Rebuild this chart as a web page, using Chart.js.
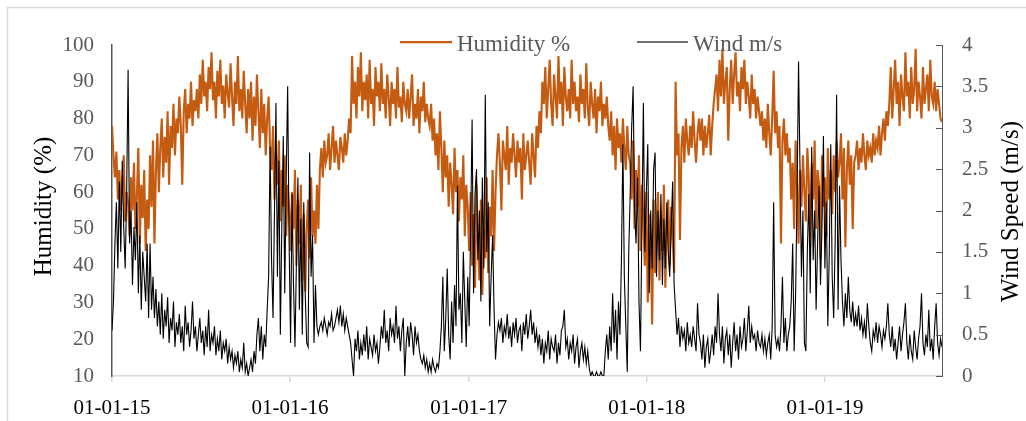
<!DOCTYPE html>
<html>
<head>
<meta charset="utf-8">
<script src="https://cdn.jsdelivr.net/npm/chart.js@4.4.1/dist/chart.umd.min.js"></script>
<style>
  html, body { margin: 0; padding: 0; background: #ffffff; }
  canvas { display: block; }
</style>
</head>
<body>
<canvas id="c" width="1026" height="421"></canvas>
<script>
// ---- data (3-day samples starting 01-01-2015) ----
const STEP_DAYS = 3;
const humidity = [
  // Jan-Feb 2015
  78, 70, 64, 71, 58, 66, 55, 62, 70, 52,
  60, 57, 48, 64, 55, 68, 50, 59, 72, 46,
  62, 53, 66, 44, 58, 50,
  // Mar-Apr 2015
  70, 56, 74, 46, 66, 76, 60, 72, 80, 64,
  75, 68, 82, 62, 78, 72, 84, 70, 80, 76,
  // May-Jun 2015
  86, 78, 62, 82, 88, 76, 84, 80, 90, 78,
  85, 82, 88, 80,
  // Jun-Sep 2015
  92, 84, 96, 86, 90, 82, 94, 88, 98, 85,
  90, 80, 93, 86, 96, 84, 89, 80, 92, 87,
  83, 95, 86, 78, 90, 84, 97, 82, 88, 80,
  93, 84, 76, 88,
  // Oct-Nov 2015
  80, 90, 74, 86, 78, 92, 82, 72, 88, 76,
  84, 70, 80, 86,
  // Nov 2015 - Feb 2016
  72, 66, 78, 58, 70, 62, 74, 52, 66, 56,
  70, 48, 62, 55, 44, 60, 50, 66, 40, 58,
  46, 62, 36, 54, 33, 50, 58, 42, 64, 48,
  55, 46, 62, 50,
  // Feb-Apr 2016
  66, 72, 64, 74, 68, 70, 76, 66, 72, 78,
  68, 74, 70, 66, 75, 72, 68, 76, 70, 74, 80,
  // May-Oct 2016
  76, 97, 84, 90, 80, 94, 86, 98, 82, 90,
  85, 92, 80, 96, 84, 88, 78, 94, 86, 90,
  82, 95, 84, 88, 80, 92, 86, 78, 90, 84,
  88, 80, 94, 83, 86, 79, 90, 84, 82, 88,
  80, 86, 92, 78, 84, 80, 88, 76, 86, 82,
  90, 79, 84, 80,
  // Oct-Dec 2016
  78, 84, 74, 80, 70, 76, 66, 82, 72, 60,
  74, 64, 70, 56, 68, 62, 54, 72, 60, 66,
  52, 64, 58, 70, 48, 62, 56, 44,
  // Jan-Feb 2017
  60, 40, 54, 34, 62, 46, 36, 58, 32, 50,
  42, 64, 38, 56, 48, 66, 44, 60, 70, 76,
  // Mar-May 2017
  68, 55, 74, 70, 66, 78, 62, 72, 68, 76,
  70, 64, 74, 68, 72, 58, 76, 66, 70, 74,
  68, 62, 76, 70, 64, 78, 72,
  // May-Oct 2017
  82, 76, 90, 84, 94, 80, 88, 96, 84, 78,
  92, 86, 80, 97, 84, 90, 78, 94, 86, 82,
  88, 80, 96, 84, 90, 82, 86, 79, 92, 84,
  88, 80, 95, 83, 78, 90, 84, 80, 88, 76,
  86, 82, 90, 78, 84, 80, 86, 78,
  // Oct-Nov 2017
  74, 82, 70, 78, 66, 80, 72, 76, 68, 80,
  72, 66, 78, 70,
  // Dec 2017 - Feb 2018
  68, 58, 74, 50, 66, 56, 70, 44, 62, 52,
  40, 60, 30, 54, 46, 24, 58, 38, 50, 60,
  36, 54, 44, 62, 34, 50, 58, 40, 56, 48, 38,
  // Feb-Mar 2018
  90, 70, 76, 47, 72, 78, 68, 80, 74, 70,
  78, 72, 82, 74, 68, 76, 80,
  // Apr 2018
  74, 80, 70, 78, 72, 76, 81, 70, 78, 84,
  // May-Aug 2018
  88, 92, 82, 96, 86, 99, 84, 90, 94, 74,
  88, 96, 84, 92, 98, 86, 90, 82, 94, 88,
  96, 84, 90, 86, 80, 92, 84, 88, 80, 86, 82,
  // Sep-Oct 2018
  78, 82, 74, 80, 72, 84, 76, 70, 80, 93,
  76, 82, 72, 78, 46, 74, 80, 70, 76, 68,
  // Nov 2018 - Jan 2019
  72, 58, 68, 50, 74, 62, 46, 66, 56, 70,
  60, 52, 72, 64, 45, 68, 58, 74, 50, 66,
  62, 42, 70, 56, 64, 48, 72, 58, 66, 54,
  70, 60, 74, 64,
  // Feb 2019
  68, 76, 58, 72, 45, 66, 74, 62, 70, 50, 68,
  // Mar-May 2019
  70, 74, 66, 72, 68, 76, 70, 66, 74, 70,
  72, 68, 76, 70, 74, 72, 78, 70, 76, 80,
  74, 82, 78,
  // Jun-Aug 2019
  84, 94, 80, 88, 96, 84, 90, 78, 92, 86,
  82, 98, 86, 90, 80, 94, 84, 88, 99, 82,
  90, 86, 80, 94, 84, 88, 92, 82, 96, 86,
  84, 90, 82, 88, 84, 80, 79
];
const wind = [
  // Jan-Feb 2015
  0.55, 0.9, 1.6, 2.1, 1.3, 2.35, 1.5, 2.6, 1.8, 1.3,
  2.2, 3.7, 1.6, 2.0, 1.1, 1.8, 1.4, 2.1, 1.0, 1.7,
  0.8, 1.5, 1.2, 0.9, 1.6, 0.7,
  // Mar-Apr 2015
  1.6, 0.8, 1.2, 0.7, 1.05, 0.6, 0.9, 0.5, 1.0, 0.45,
  0.8, 0.6, 0.95, 0.4, 0.7, 0.55, 0.9, 0.35, 0.65, 0.5,
  // May-Jun 2015
  0.75, 0.4, 0.6, 0.3, 0.85, 0.5, 0.65, 0.35, 0.55, 0.9,
  0.45, 0.6, 0.3, 0.5,
  // Jun-Sep 2015
  0.7, 0.4, 0.55, 0.25, 0.6, 0.35, 0.8, 0.3, 0.5, 0.4,
  0.6, 0.25, 0.45, 0.3, 0.55, 0.2, 0.4, 0.3, 0.45, 0.15,
  0.35, 0.2, 0.3, 0.1, 0.25, 0.15, 0.3, 0.05, 0.2, 0.1,
  0.4, 0.05, 0.15, 0.0,
  // Oct-Nov 2015
  0.1, 0.2, 0.05, 0.3, 0.15, 0.5, 0.7, 0.3, 0.6, 0.2,
  0.5, 0.35, 0.8, 1.2,
  // Nov 2015 - Feb 2016
  2.77, 1.4, 0.7, 2.0, 3.3, 1.2, 2.6, 0.5, 1.8, 2.9,
  1.0, 2.4, 3.5, 1.6, 0.4, 2.2, 1.1, 0.35, 1.4, 2.4,
  0.8, 1.9, 0.5, 2.1, 1.0, 0.4, 0.35, 2.7, 1.2, 1.7,
  0.4, 1.1, 0.6, 0.5,
  // Feb-Apr 2016
  0.6, 0.65, 0.55, 0.7, 0.6, 0.5, 0.65, 0.6, 0.75, 0.55,
  0.6, 0.7, 0.8, 0.65, 0.85, 0.6, 0.75, 0.55, 0.7, 0.6, 0.5,
  // May-Oct 2016
  0.4, 0.2, 0.0, 0.45, 0.3, 0.55, 0.2, 0.4, 0.25, 0.5,
  0.3, 0.6, 0.2, 0.45, 0.35, 0.25, 0.5, 0.3, 0.4, 0.15,
  0.35, 0.6, 0.45, 0.8, 0.4, 0.55, 0.3, 0.7, 0.5, 0.6,
  0.4, 0.85, 0.45, 0.6, 0.3, 0.55, 0.7, 0.0, 0.4, 0.6,
  0.35, 0.65, 0.5, 0.25, 0.6, 0.4, 0.5, 0.3, 0.2, 0.15,
  0.25, 0.1, 0.2, 0.05,
  // Oct-Dec 2016
  0.15, 0.05, 0.2, 0.1, 0.05, 0.15, 0.1, 0.3, 0.6, 1.2,
  0.3, 0.7, 1.3, 0.5, 0.2, 0.9, 0.4, 1.1, 0.6, 2.3,
  0.8, 1.0, 0.4, 1.5, 0.9, 0.35, 1.2, 0.6,
  // Jan-Feb 2017
  1.8, 3.1, 1.0, 2.2, 2.5, 1.4, 2.0, 0.9, 2.4, 1.3,
  3.4, 1.5, 2.1, 0.6, 1.2, 1.7, 0.8, 0.2, 0.5, 0.65,
  // Mar-May 2017
  0.55, 0.7, 0.4, 0.6, 0.5, 0.75, 0.45, 0.6, 0.35, 0.65,
  0.5, 0.7, 0.4, 0.55, 0.6, 0.3, 0.65, 0.5, 0.75, 0.45,
  0.6, 0.8, 0.5, 0.65, 0.4, 0.55, 0.35,
  // May-Oct 2017
  0.5, 0.25, 0.45, 0.15, 0.4, 0.3, 0.55, 0.2, 0.45, 0.35,
  0.3, 0.5, 0.15, 0.4, 0.25, 0.55, 0.6, 0.8, 0.35, 0.45,
  0.2, 0.4, 0.3, 0.5, 0.15, 0.35, 0.45, 0.1, 0.3, 0.4,
  0.2, 0.35, 0.15, 0.3, 0.1, 0.0, 0.05, 0.0, 0.0, 0.05,
  0.0, 0.0, 0.05, 0.0, 0.0, 0.3, 0.5, 0.2,
  // Oct-Nov 2017
  0.6, 0.3, 1.0, 0.4, 0.8, 0.2, 0.9, 0.5, 1.4, 2.8,
  1.2, 0.6, 0.05, 1.5,
  // Dec 2017 - Feb 2018
  2.2, 3.0, 3.5, 2.0, 1.6, 2.4, 0.9, 0.3, 1.8, 3.3,
  1.5, 2.2, 2.8, 1.0, 2.0, 1.3, 2.5, 2.7, 1.2, 2.0,
  1.4, 2.2, 1.1, 1.9, 1.3, 2.1, 1.5, 1.2, 1.8, 2.35, 1.1,
  // Feb-Mar 2018
  0.8, 0.5, 0.7, 0.35, 0.6, 0.45, 0.55, 0.3, 0.65, 0.4,
  0.5, 0.35, 0.6, 0.45, 0.3, 0.88, 0.5,
  // Apr 2018
  0.4, 0.2, 0.5, 0.1, 0.35, 0.45, 0.15, 0.3, 0.5, 0.25,
  // May-Aug 2018
  0.6, 0.4, 1.0, 0.5, 0.3, 0.6, 0.15, 0.45, 0.55, 0.25,
  0.5, 0.1, 0.4, 0.65, 0.3, 0.5, 0.2, 0.6, 0.35, 0.45,
  0.7, 0.3, 0.55, 0.85, 0.4, 0.6, 0.45, 0.5, 0.3, 0.55, 0.4,
  // Sep-Oct 2018
  0.35, 0.5, 0.3, 0.45, 0.25, 0.4, 0.5, 0.2, 0.6, 2.1,
  0.5, 0.35, 0.45, 0.3, 0.6, 1.2, 0.4, 0.7, 0.3, 0.5,
  // Nov 2018 - Jan 2019
  0.6, 0.9, 1.6, 0.3, 1.0, 2.2, 3.8, 2.5, 1.2, 2.0,
  0.4, 0.3, 1.5, 2.2, 1.0, 2.77, 1.4, 2.0, 0.8, 1.6,
  2.3, 1.1, 1.8, 2.9, 1.3, 2.1, 0.6, 1.5, 2.8, 1.2,
  0.7, 1.6, 3.4, 0.8,
  // Feb 2019
  2.3, 1.4, 0.9, 0.6, 1.0, 0.7, 1.2, 0.8, 0.65, 0.9, 0.6,
  // Mar-May 2019
  0.75, 0.6, 0.85, 0.55, 0.7, 0.5, 0.65, 0.45, 0.88, 0.6,
  0.4, 0.3, 0.55, 0.45, 0.65, 0.4, 0.6, 0.5, 0.35, 0.55,
  0.45, 0.6, 0.88,
  // Jun-Aug 2019
  0.5, 0.35, 0.6, 0.3, 0.45, 0.2, 0.4, 0.6, 0.3, 0.5,
  0.65, 0.88, 0.4, 0.2, 0.5, 0.3, 0.2, 0.55, 0.35, 0.2,
  0.45, 0.6, 1.0, 0.4, 0.25, 0.5, 0.35, 0.8, 0.3, 0.45,
  0.2, 0.6, 0.88, 0.4, 0.25, 0.45, 0.35
];
const xTickDays = [0, 365, 731, 1096, 1461];
const xTickLabels = ['01-01-15', '01-01-16', '01-01-17', '01-01-18', '01-01-19'];
const seriesLabels = ['Humidity %', 'Wind m/s'];
const axisTitles = ['Humidity (%)', 'Wind Speed (m/s)'];

const ORANGE = '#C55A11';
const GRAY = '#595959';
const SERIF = '"Liberation Serif", "Times New Roman", serif';

const toPoints = arr => arr.map((v, i) => ({ x: i * STEP_DAYS, y: v }));

const decorPlugin = {
  id: 'decor',
  beforeDraw(chart) {
    const ctx = chart.ctx;
    ctx.save();
    ctx.fillStyle = '#ffffff';
    ctx.fillRect(0, 0, chart.width, chart.height);
    ctx.strokeStyle = '#d9d9d9';
    ctx.lineWidth = 1.5;
    ctx.strokeRect(7.5, 7.5, chart.width + 20, chart.height + 20);
    ctx.restore();
  },
  afterDraw(chart) {
    const ctx = chart.ctx;
    const area = chart.chartArea;
    const y1 = chart.scales.y1;
    ctx.save();
    // inward tick marks on the right axis
    ctx.strokeStyle = GRAY;
    ctx.lineWidth = 1;
    y1.ticks.forEach(t => {
      const py = Math.round(y1.getPixelForValue(t.value)) + 0.5;
      ctx.beginPath();
      ctx.moveTo(area.right - 6, py);
      ctx.lineTo(area.right, py);
      ctx.stroke();
    });
    // axis titles
    ctx.fillStyle = '#000000';
    ctx.font = '25px ' + SERIF;
    ctx.textAlign = 'center';
    ctx.textBaseline = 'alphabetic';
    const midY = (area.top + area.bottom) / 2;
    ctx.save();
    ctx.translate(51, midY - 4);
    ctx.rotate(-Math.PI / 2);
    ctx.fillText(axisTitles[0], 0, 0);
    ctx.restore();
    ctx.save();
    ctx.translate(1018, midY + 1);
    ctx.rotate(-Math.PI / 2);
    ctx.fillText(axisTitles[1], 0, 0);
    ctx.restore();
    // legend
    ctx.font = '23px ' + SERIF;
    ctx.textAlign = 'left';
    ctx.fillStyle = GRAY;
    ctx.lineWidth = 2.25;
    ctx.strokeStyle = ORANGE;
    ctx.beginPath(); ctx.moveTo(400, 42); ctx.lineTo(452, 42); ctx.stroke();
    ctx.fillText(seriesLabels[0], 457, 51);
    ctx.lineWidth = 1.5;
    ctx.strokeStyle = '#404040';
    ctx.beginPath(); ctx.moveTo(637, 42); ctx.lineTo(688, 42); ctx.stroke();
    ctx.fillText(seriesLabels[1], 693, 51);
    ctx.restore();
  }
};

new Chart(document.getElementById('c'), {
  type: 'line',
  data: {
    datasets: [
      {
        label: seriesLabels[1],
        data: toPoints(wind),
        yAxisID: 'y1',
        borderColor: '#000000',
        borderWidth: 1.1,
        pointRadius: 0,
        tension: 0
      },
      {
        label: seriesLabels[0],
        data: toPoints(humidity),
        yAxisID: 'y',
        borderColor: ORANGE,
        borderWidth: 2.1,
        pointRadius: 0,
        tension: 0
      }
    ]
  },
  options: {
    responsive: false,
    animation: false,
    devicePixelRatio: 1,
    layout: { padding: { top: 45, left: 0, right: 0, bottom: 0 } },
    plugins: { legend: { display: false }, tooltip: { enabled: false } },
    scales: {
      x: {
        type: 'linear',
        min: 0,
        max: (humidity.length - 1) * STEP_DAYS,
        afterBuildTicks: s => { s.ticks = xTickDays.map(v => ({ value: v })); },
        afterFit: s => { s.height = 45; },
        grid: { display: true, drawOnChartArea: false, drawTicks: true, tickLength: 6, color: '#d9d9d9', lineWidth: 1.5 },
        border: { display: true, color: '#d9d9d9', width: 1.5 },
        ticks: {
          color: '#000000',
          font: { family: SERIF, size: 21 },
          padding: 14,
          maxRotation: 0,
          autoSkip: false,
          callback: (v, i) => xTickLabels[i]
        }
      },
      y: {
        position: 'left',
        min: 10,
        max: 100,
        afterFit: s => { s.width = 112; },
        grid: { display: false, drawTicks: false },
        border: { display: true, color: GRAY, width: 1.5 },
        ticks: { stepSize: 10, color: GRAY, font: { family: SERIF, size: 21 }, padding: 18 }
      },
      y1: {
        position: 'right',
        min: 0,
        max: 4,
        afterFit: s => { s.width = 84; },
        grid: { display: false, drawTicks: false },
        border: { display: true, color: GRAY, width: 1 },
        ticks: { stepSize: 0.5, color: GRAY, font: { family: SERIF, size: 21 }, padding: 20, callback: v => String(v) }
      }
    }
  },
  plugins: [decorPlugin]
});
</script>
</body>
</html>
